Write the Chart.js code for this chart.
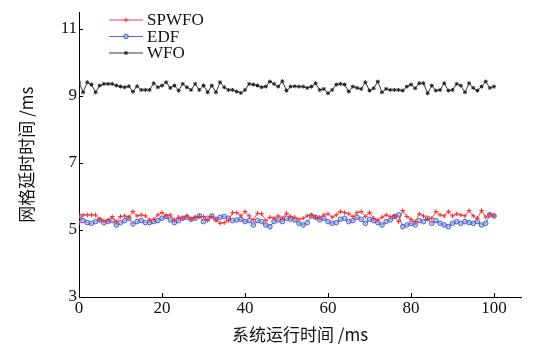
<!DOCTYPE html>
<html>
<head>
<meta charset="utf-8">
<script src="https://cdn.jsdelivr.net/npm/chart.js@4.4.1/dist/chart.umd.min.js"></script>
<style>
html,body{margin:0;padding:0;background:#fff;}
#wrap{width:536px;height:357px;}
</style>
</head>
<body>
<div id="wrap"><canvas id="c" width="536" height="357"></canvas></div>
<script>
const seriesNames = ["SPWFO", "EDF", "WFO"];
const xTicks = [0, 20, 40, 60, 80, 100];
const yTicks = [3, 5, 7, 9, 11];
const xTitle = "系统运行时间 /ms";
const yTitle = "网格延时时间 /ms";

const timeSteps = Array.from({length: 101}, (_, i) => i);

const spwfo = [5.22,5.45,5.45,5.45,5.45,5.32,5.28,5.30,5.40,5.25,5.40,5.42,5.38,5.55,5.42,5.45,5.42,5.30,5.32,5.45,
5.52,5.42,5.45,5.30,5.38,5.35,5.42,5.32,5.38,5.40,5.40,5.28,5.40,5.30,5.20,5.22,5.28,5.52,5.52,5.42,
5.55,5.42,5.30,5.50,5.48,5.28,5.38,5.35,5.42,5.35,5.50,
5.40,5.38,5.32,5.35,5.42,5.45,5.38,5.38,5.45,5.48,5.38,5.45,5.55,5.52,5.48,5.40,5.52,5.55,5.40,5.52,
5.35,5.30,5.38,5.45,5.40,5.42,5.25,5.58,5.40,5.32,5.25,5.48,5.42,5.32,5.35,5.55,5.45,5.42,5.55,5.42,
5.48,5.45,5.42,5.58,5.42,5.35,5.58,5.38,5.48,5.42];

const edf = [5.42,5.28,5.22,5.20,5.25,5.30,5.22,5.25,5.28,5.15,5.22,5.28,5.35,5.18,5.25,5.28,5.22,5.22,5.25,5.28,
5.35,5.40,5.30,5.22,5.28,5.35,5.38,5.32,5.35,5.42,5.25,5.35,5.42,5.32,5.38,5.40,5.35,5.28,5.30,5.32,
5.25,5.28,5.15,5.28,5.25,5.15,5.10,5.25,5.30,5.25,5.35,
5.32,5.30,5.20,5.15,5.22,5.42,5.38,5.30,5.35,5.25,5.20,5.22,5.32,5.35,5.25,5.28,5.38,5.32,5.20,5.32,
5.28,5.22,5.15,5.25,5.30,5.40,5.45,5.10,5.15,5.20,5.15,5.28,5.25,5.35,5.20,5.28,5.20,5.15,5.10,5.20,
5.25,5.20,5.25,5.22,5.20,5.25,5.15,5.20,5.45,5.42];

const wfo = [9.41,9.11,9.41,9.34,9.11,9.31,9.36,9.36,9.36,9.31,9.28,9.26,9.29,9.13,9.29,9.18,9.18,9.18,9.38,9.26,
9.31,9.41,9.24,9.31,9.16,9.36,9.26,9.18,9.36,9.18,9.31,9.11,9.31,9.11,9.41,9.26,9.18,9.18,9.13,9.09,
9.18,9.36,9.34,9.31,9.26,9.28,9.43,9.36,9.28,9.44,9.16,
9.28,9.29,9.28,9.28,9.24,9.28,9.38,9.18,9.21,9.08,9.18,9.34,9.36,9.34,9.13,9.28,9.24,9.21,9.41,9.16,
9.23,9.43,9.11,9.21,9.18,9.18,9.18,9.16,9.28,9.34,9.23,9.38,9.38,9.08,9.31,9.16,9.18,9.38,9.16,9.18,
9.36,9.31,9.11,9.38,9.24,9.16,9.28,9.43,9.24,9.28];

const serif = "'Liberation Serif','DejaVu Serif',serif";
const cjk = "'Noto Sans CJK SC','Liberation Serif',serif";

const styles = [
  {border:'#ff2a2a', bg:'#ff2a2a', style:'cross', r:2.3},
  {border:'#4a5cc8', bg:'rgba(150,165,235,0.45)', style:'circle', r:2.3},
  {border:'#222222', bg:'#222222', style:'star', r:2.0}
];
const values = [spwfo, edf, wfo];

const datasets = seriesNames.map((n, i) => ({
  label: n,
  data: timeSteps.map((t, j) => ({x: t, y: values[i][j]})),
  borderColor: styles[i].border,
  backgroundColor: styles[i].bg,
  pointStyle: styles[i].style,
  pointRadius: styles[i].r,
  pointBorderColor: styles[i].border,
  pointBackgroundColor: styles[i].bg,
  pointBorderWidth: 1,
  borderWidth: 0.9,
  tension: 0,
  fill: false
}));

const innerTicks = {
  id: 'innerTicks',
  afterDraw(chart) {
    const ctx = chart.ctx;
    const xs = chart.scales.x, ys = chart.scales.y;
    const a = chart.chartArea;
    ctx.save();
    ctx.strokeStyle = '#000';
    ctx.lineWidth = 1;
    ctx.beginPath();
    xTicks.forEach(v => {
      const px = Math.round(xs.getPixelForValue(v)) + 0.5;
      ctx.moveTo(px, a.bottom);
      ctx.lineTo(px, a.bottom - 4);
    });
    yTicks.forEach(v => {
      const py = Math.round(ys.getPixelForValue(v)) + 0.5;
      ctx.moveTo(a.left, py);
      ctx.lineTo(a.left + 4, py);
    });
    ctx.stroke();
    ctx.restore();
  }
};

const innerLegend = {
  id: 'innerLegend',
  afterDraw(chart) {
    const ctx = chart.ctx;
    const a = chart.chartArea;
    ctx.save();
    ctx.font = "17px " + serif;
    ctx.textBaseline = 'middle';
    chart.data.datasets.forEach((ds, i) => {
      const y = 20 + i * 16.5;
      const x0 = a.left + 30, x1 = a.left + 64;
      ctx.strokeStyle = ds.borderColor;
      ctx.lineWidth = 0.9;
      ctx.beginPath();
      ctx.moveTo(x0, y); ctx.lineTo(x1, y);
      ctx.stroke();
      ctx.fillStyle = ds.pointBackgroundColor;
      ctx.strokeStyle = ds.pointBorderColor;
      ctx.lineWidth = 1;
      Chart.helpers.drawPoint(ctx, {pointStyle: ds.pointStyle, radius: ds.pointRadius, rotation: 0, borderWidth: 1}, (x0 + x1) / 2, y);
      ctx.fillStyle = '#111';
      ctx.fillText(ds.label, x1 + 4, y + 1);
    });
    ctx.restore();
  }
};

new Chart(document.getElementById('c'), {
  type: 'line',
  data: { datasets },
  plugins: [innerTicks, innerLegend],
  options: {
    responsive: false,
    animation: false,
    layout: { padding: { top: 12, right: 15, left: 0, bottom: 0 } },
    plugins: { legend: { display: false }, tooltip: { enabled: false } },
    scales: {
      x: {
        type: 'linear',
        min: 0, max: 106.5,
        afterBuildTicks: s => { s.ticks = xTicks.map(v => ({value: v})); },
        afterFit: s => { s.height = 60; },
        grid: { display: false, drawTicks: false },
        border: { display: true, color: '#000', width: 1 },
        ticks: { color: '#111', font: { family: serif, size: 17 }, padding: 1, maxRotation: 0 },
        title: { display: true, text: xTitle, color: '#111', font: { family: cjk, size: 17 }, padding: { top: 4, bottom: 12 } }
      },
      y: {
        type: 'linear',
        min: 3, max: 11.5,
        afterBuildTicks: s => { s.ticks = yTicks.map(v => ({value: v})); },
        afterFit: s => { s.width = 79; },
        grid: { display: false, drawTicks: false },
        border: { display: true, color: '#000', width: 1 },
        ticks: { color: '#111', font: { family: serif, size: 17 }, padding: 2 },
        title: { display: true, text: yTitle, color: '#111', font: { family: cjk, size: 17 }, padding: { top: 16, bottom: 0 } }
      }
    }
  }
});
</script>
</body>
</html>
